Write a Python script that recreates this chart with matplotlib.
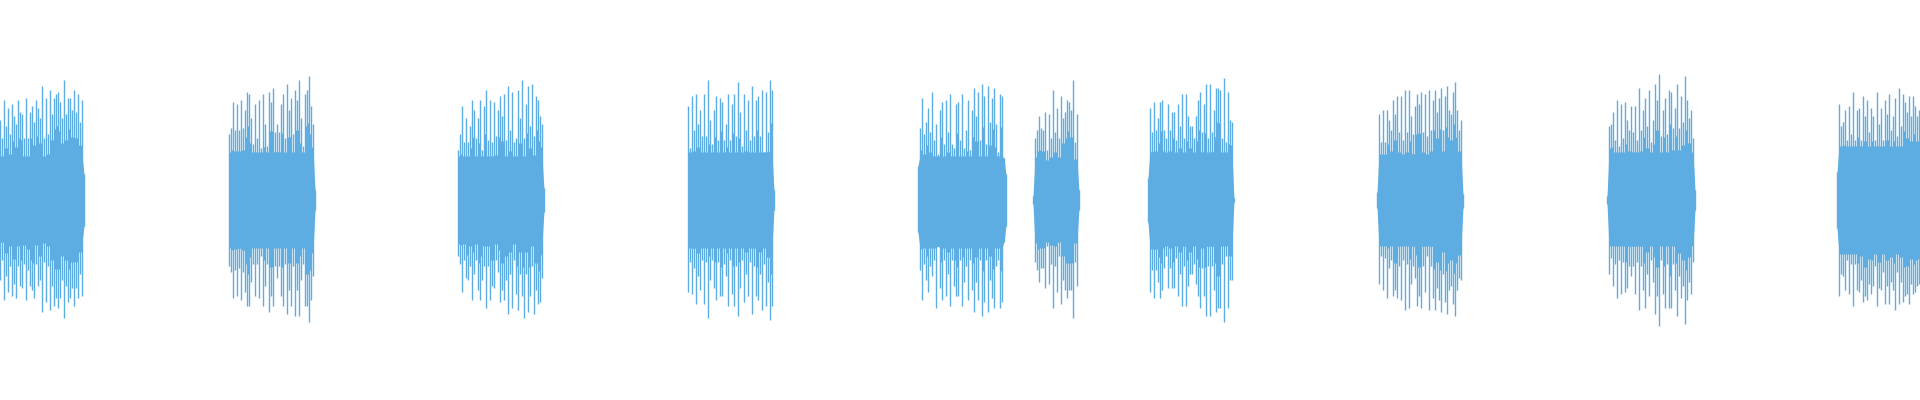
import numpy as np
import matplotlib.pyplot as plt

COLOR = "#5DADE2"
STEP = 2 / 230  # seconds between two drawn peaks

# start of each burst (s)
burst_starts = [0.0, 0.996, 1.991, 2.991, 3.991, 4.491, 4.991, 5.987, 6.987, 7.987]

# level of the dense middle band of each burst
core_top = [0.22, 0.24, 0.22, 0.24, 0.22, 0.20, 0.24, 0.23, 0.24, 0.27]
core_bot = [0.21, 0.24, 0.22, 0.24, 0.24, 0.21, 0.23, 0.23, 0.23, 0.27]

# peak amplitudes (upper / lower side)
top_1 = [0.40, 0.31, 0.50, 0.37, 0.46, 0.33, 0.48, 0.42, 0.38, 0.50, 0.44, 0.43, 0.31, 0.51, 0.31,
         0.44, 0.47, 0.39, 0.50, 0.46, 0.41, 0.57, 0.31, 0.51, 0.33, 0.55, 0.43, 0.51, 0.53, 0.54,
         0.49, 0.41, 0.60, 0.43, 0.51, 0.51, 0.45, 0.55, 0.44, 0.53, 0.39, 0.50, 0.13]
bot_1 = [0.40, 0.30, 0.50, 0.38, 0.46, 0.33, 0.48, 0.42, 0.49, 0.33, 0.43, 0.44, 0.32, 0.50, 0.35,
         0.43, 0.45, 0.49, 0.32, 0.43, 0.40, 0.56, 0.31, 0.51, 0.33, 0.55, 0.43, 0.53, 0.49, 0.54,
         0.49, 0.40, 0.59, 0.43, 0.51, 0.49, 0.44, 0.53, 0.44, 0.49, 0.37, 0.48, 0.13]

top_2 = [0.33, 0.36, 0.49, 0.35, 0.48, 0.35, 0.50, 0.36, 0.45, 0.54, 0.53, 0.41, 0.28, 0.48, 0.31,
         0.50, 0.26, 0.53, 0.38, 0.27, 0.54, 0.49, 0.56, 0.34, 0.38, 0.34, 0.48, 0.53, 0.31, 0.58,
         0.45, 0.51, 0.33, 0.55, 0.50, 0.60, 0.41, 0.27, 0.53, 0.55, 0.62, 0.47, 0.38, 0.05]
bot_2 = [0.33, 0.36, 0.49, 0.35, 0.48, 0.34, 0.50, 0.36, 0.46, 0.53, 0.53, 0.41, 0.32, 0.48, 0.32,
         0.49, 0.28, 0.53, 0.43, 0.32, 0.56, 0.48, 0.53, 0.33, 0.39, 0.33, 0.48, 0.53, 0.32, 0.57,
         0.45, 0.53, 0.33, 0.58, 0.45, 0.58, 0.40, 0.32, 0.53, 0.53, 0.61, 0.50, 0.38, 0.05]

top_3 = [0.25, 0.33, 0.47, 0.29, 0.41, 0.29, 0.37, 0.50, 0.45, 0.31, 0.41, 0.50, 0.25, 0.47, 0.55,
         0.30, 0.50, 0.29, 0.49, 0.32, 0.45, 0.52, 0.42, 0.53, 0.30, 0.57, 0.35, 0.54, 0.29, 0.31,
         0.55, 0.41, 0.60, 0.31, 0.48, 0.57, 0.37, 0.58, 0.32, 0.52, 0.50, 0.42, 0.38, 0.06]
bot_3 = [0.28, 0.32, 0.46, 0.30, 0.39, 0.40, 0.33, 0.50, 0.37, 0.30, 0.45, 0.50, 0.40, 0.33, 0.54,
         0.33, 0.50, 0.43, 0.44, 0.30, 0.36, 0.51, 0.45, 0.50, 0.40, 0.57, 0.37, 0.54, 0.30, 0.47,
         0.55, 0.37, 0.48, 0.59, 0.37, 0.56, 0.48, 0.33, 0.57, 0.45, 0.52, 0.51, 0.39, 0.06]

top_4 = [0.47, 0.26, 0.52, 0.35, 0.53, 0.38, 0.45, 0.32, 0.53, 0.32, 0.60, 0.40, 0.28, 0.45, 0.52,
         0.30, 0.51, 0.49, 0.30, 0.38, 0.53, 0.30, 0.48, 0.53, 0.32, 0.59, 0.44, 0.27, 0.53, 0.35,
         0.50, 0.30, 0.57, 0.32, 0.50, 0.52, 0.32, 0.55, 0.24, 0.54, 0.34, 0.60, 0.55, 0.05]
bot_4 = [0.46, 0.31, 0.47, 0.34, 0.52, 0.38, 0.45, 0.30, 0.52, 0.31, 0.59, 0.40, 0.30, 0.44, 0.50,
         0.31, 0.48, 0.48, 0.32, 0.38, 0.53, 0.30, 0.47, 0.53, 0.33, 0.58, 0.44, 0.30, 0.51, 0.37,
         0.48, 0.31, 0.57, 0.33, 0.48, 0.50, 0.37, 0.55, 0.32, 0.53, 0.41, 0.60, 0.53, 0.05]

top_5 = [0.17, 0.36, 0.51, 0.33, 0.39, 0.46, 0.34, 0.54, 0.30, 0.38, 0.23, 0.45, 0.49, 0.28, 0.50,
         0.34, 0.53, 0.28, 0.26, 0.48, 0.49, 0.30, 0.53, 0.26, 0.35, 0.50, 0.25, 0.45, 0.56, 0.42,
         0.54, 0.30, 0.58, 0.52, 0.28, 0.57, 0.39, 0.51, 0.56, 0.38, 0.24, 0.53, 0.52, 0.21, 0.13]
bot_5 = [0.16, 0.35, 0.50, 0.32, 0.40, 0.46, 0.33, 0.38, 0.30, 0.54, 0.23, 0.44, 0.50, 0.30, 0.48,
         0.37, 0.53, 0.30, 0.43, 0.48, 0.48, 0.30, 0.53, 0.41, 0.33, 0.50, 0.30, 0.45, 0.56, 0.41,
         0.50, 0.30, 0.58, 0.51, 0.30, 0.56, 0.40, 0.49, 0.54, 0.33, 0.30, 0.54, 0.51, 0.21, 0.13]

top_6 = [0.02, 0.31, 0.35, 0.42, 0.36, 0.35, 0.44, 0.25, 0.43, 0.31, 0.55, 0.34, 0.46, 0.31, 0.52,
         0.41, 0.44, 0.50, 0.49, 0.45, 0.60, 0.29, 0.43, 0.05]
bot_6 = [0.02, 0.31, 0.35, 0.41, 0.34, 0.34, 0.44, 0.23, 0.42, 0.32, 0.54, 0.33, 0.46, 0.28, 0.52,
         0.40, 0.45, 0.49, 0.45, 0.45, 0.59, 0.31, 0.43, 0.05]

top_7 = [0.11, 0.46, 0.34, 0.49, 0.35, 0.41, 0.49, 0.50, 0.35, 0.31, 0.48, 0.35, 0.44, 0.44, 0.30,
         0.48, 0.37, 0.53, 0.31, 0.53, 0.42, 0.37, 0.37, 0.31, 0.42, 0.50, 0.54, 0.34, 0.48, 0.58,
         0.31, 0.58, 0.34, 0.45, 0.56, 0.56, 0.55, 0.31, 0.61, 0.29, 0.54, 0.40, 0.39, 0.01]
bot_7 = [0.11, 0.46, 0.35, 0.49, 0.35, 0.41, 0.49, 0.45, 0.34, 0.28, 0.44, 0.34, 0.44, 0.44, 0.29,
         0.48, 0.37, 0.53, 0.33, 0.53, 0.43, 0.37, 0.37, 0.32, 0.42, 0.48, 0.54, 0.34, 0.48, 0.58,
         0.33, 0.58, 0.33, 0.45, 0.56, 0.54, 0.54, 0.32, 0.61, 0.28, 0.54, 0.40, 0.40, 0.01]

top_8 = [0.04, 0.43, 0.29, 0.45, 0.29, 0.45, 0.40, 0.35, 0.50, 0.43, 0.52, 0.34, 0.52, 0.30, 0.55,
         0.34, 0.55, 0.42, 0.33, 0.47, 0.53, 0.48, 0.54, 0.34, 0.53, 0.32, 0.55, 0.35, 0.50, 0.55,
         0.44, 0.51, 0.56, 0.35, 0.52, 0.57, 0.45, 0.43, 0.54, 0.59, 0.45, 0.35, 0.40, 0.03]
bot_8 = [0.04, 0.42, 0.28, 0.45, 0.29, 0.49, 0.34, 0.30, 0.48, 0.45, 0.49, 0.33, 0.50, 0.30, 0.55,
         0.32, 0.54, 0.42, 0.33, 0.39, 0.53, 0.48, 0.54, 0.33, 0.46, 0.28, 0.55, 0.33, 0.49, 0.55,
         0.44, 0.50, 0.56, 0.37, 0.51, 0.57, 0.45, 0.43, 0.52, 0.58, 0.45, 0.39, 0.40, 0.04]

top_9 = [0.02, 0.37, 0.38, 0.44, 0.30, 0.50, 0.27, 0.48, 0.31, 0.49, 0.40, 0.35, 0.47, 0.34, 0.47,
         0.30, 0.56, 0.35, 0.45, 0.51, 0.37, 0.55, 0.29, 0.40, 0.58, 0.50, 0.63, 0.32, 0.45, 0.51,
         0.33, 0.55, 0.54, 0.36, 0.46, 0.58, 0.36, 0.52, 0.39, 0.62, 0.50, 0.41, 0.45, 0.31, 0.05]
bot_9 = [0.02, 0.37, 0.29, 0.43, 0.32, 0.49, 0.30, 0.47, 0.31, 0.46, 0.44, 0.33, 0.38, 0.33, 0.47,
         0.31, 0.55, 0.33, 0.45, 0.54, 0.37, 0.48, 0.30, 0.41, 0.57, 0.48, 0.63, 0.30, 0.47, 0.54,
         0.32, 0.54, 0.54, 0.32, 0.45, 0.58, 0.38, 0.49, 0.43, 0.62, 0.50, 0.41, 0.47, 0.31, 0.05]

top_10 = [0.14, 0.48, 0.37, 0.39, 0.45, 0.30, 0.47, 0.33, 0.54, 0.30, 0.45, 0.46, 0.30, 0.52, 0.42,
          0.50, 0.34, 0.46, 0.42, 0.30, 0.54, 0.38, 0.46, 0.30, 0.50, 0.43, 0.53, 0.35, 0.42, 0.51,
          0.32, 0.56, 0.37, 0.53, 0.49, 0.44, 0.52, 0.42, 0.52, 0.47, 0.42, 0.45]
bot_10 = [0.14, 0.48, 0.37, 0.38, 0.45, 0.30, 0.47, 0.32, 0.53, 0.32, 0.45, 0.46, 0.40, 0.51, 0.48,
          0.50, 0.42, 0.47, 0.43, 0.33, 0.53, 0.44, 0.45, 0.36, 0.52, 0.43, 0.52, 0.41, 0.45, 0.55,
          0.36, 0.52, 0.41, 0.51, 0.48, 0.47, 0.52, 0.42, 0.47, 0.46, 0.43, 0.42]

tops = [top_1, top_2, top_3, top_4, top_5, top_6, top_7, top_8, top_9, top_10]
bots = [bot_1, bot_2, bot_3, bot_4, bot_5, bot_6, bot_7, bot_8, bot_9, bot_10]

fig = plt.figure(figsize=(19.2, 4), dpi=100)
ax = fig.add_axes([0, 0, 1, 1])

for start, top, bot, ct, cb in zip(burst_starts, tops, bots, core_top, core_bot):
    top = np.array(top)
    bot = np.array(bot)
    x = start + np.arange(len(top)) * STEP
    # dense middle band
    ax.fill_between(x, -np.minimum(bot, cb), np.minimum(top, ct),
                    color=COLOR, linewidth=0)
    # in-between columns, lower than the peaks around them
    xm = (x[:-1] + x[1:]) / 2
    mt = 0.7 * np.minimum(top[:-1], top[1:])
    mb = 0.7 * np.minimum(bot[:-1], bot[1:])
    ax.vlines(xm, -mb, mt, color=COLOR, linewidth=1.0)
    # individual peaks
    ax.vlines(x, -bot, top, color=COLOR, linewidth=1.0)

ax.set_xlim(0, 1920 / 230)
ax.set_ylim(-1, 1)
ax.axis("off")

fig.savefig("out.png", dpi=100)
